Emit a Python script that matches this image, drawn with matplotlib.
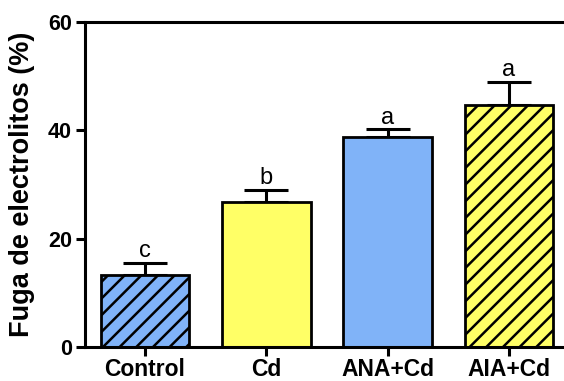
import matplotlib
matplotlib.use("Agg")
import matplotlib.pyplot as plt

categories = ["Control", "Cd", "ANA+Cd", "AIA+Cd"]
values = [13.3, 26.7, 38.8, 44.7]
errors = [2.2, 2.3, 1.4, 4.3]
letters = ["c", "b", "a", "a"]
colors = ["#80B3F8", "#FFFF66", "#80B3F8", "#FFFF66"]
hatches = ["//", "", "", "//"]
yticks = [0, 20, 40, 60]

plt.rcParams["font.family"] = ["Liberation Sans", "DejaVu Sans"]
plt.rcParams["hatch.linewidth"] = 1.8
plt.rcParams["hatch.color"] = "black"

fig = plt.figure(figsize=(5.64, 3.81), dpi=100)
ax = fig.add_axes([85 / 564, 34 / 381, (564 - 85) / 564, 325 / 381])

x = list(range(len(categories)))
bars = ax.bar(x, values, width=0.73, color=colors, edgecolor="black",
              linewidth=2.0, zorder=2)
for b, h in zip(bars, hatches):
    b.set_hatch(h)

ax.errorbar(x, values, yerr=[[0] * len(errors), errors], fmt="none",
            ecolor="black", elinewidth=2.2, capsize=16, capthick=2.2, zorder=1)

for xi, v, e, t in zip(x, values, errors, letters):
    ax.annotate(t, (xi, v + e), xytext=(0, 4), textcoords="offset points",
                ha="center", va="baseline", fontsize=17)

ax.set_xlim(-0.495, 3.454)
ax.set_ylim(0, 60)
ax.set_yticks(yticks)
ax.set_yticklabels([str(t) for t in yticks], fontsize=15.5, fontweight="bold")
ax.set_xticks(x)
ax.set_xticklabels(categories, fontsize=16.5, fontweight="bold")
ax.tick_params(axis="both", direction="out", length=6.5, width=2.2)
ax.tick_params(axis="y", pad=3)
ax.tick_params(axis="x", pad=1.5)

ax.set_ylabel("Fuga de electrolitos (%)", fontsize=19.5, fontweight="bold", labelpad=9)

for s in ["left", "bottom", "top"]:
    ax.spines[s].set_linewidth(2.2)
ax.spines["right"].set_visible(False)

fig.savefig("out.png", dpi=100)
